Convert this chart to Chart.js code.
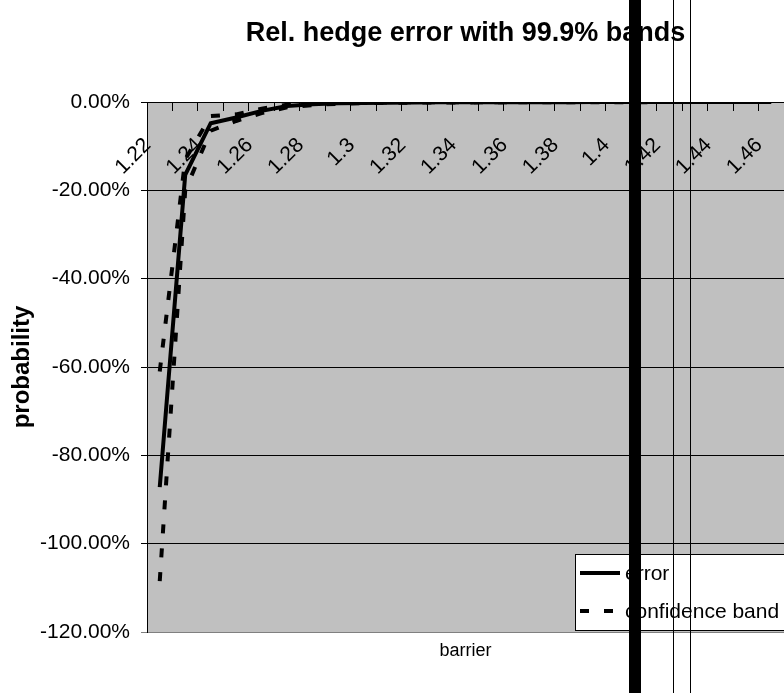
<!DOCTYPE html>
<html>
<head>
<meta charset="utf-8">
<title>Rel. hedge error with 99.9% bands</title>
<script src="https://cdn.jsdelivr.net/npm/chart.js@4/dist/chart.umd.min.js"></script>
<style>
  body { margin: 0; background: #fff; }
  #wrap { position: relative; width: 784px; height: 693px; overflow: hidden; }
  .vline { position: absolute; top: 0; height: 693px; background: #000; }
</style>
</head>
<body>
<div id="wrap">
  <canvas id="grafico" width="784" height="693"></canvas>
  <div class="vline" style="left:629px;width:12px"></div>
  <div class="vline" style="left:673px;width:1px"></div>
  <div class="vline" style="left:690px;width:1px"></div>
</div>
<script>
// barrier levels (categories)
const barreiras = ['1.22', '1.23', '1.24', '1.25', '1.26', '1.27', '1.28', '1.29', '1.3',
  '1.31', '1.32', '1.33', '1.34', '1.35', '1.36', '1.37', '1.38', '1.39', '1.4',
  '1.41', '1.42', '1.43', '1.44', '1.45', '1.46'];

// values in %
const erro = [-87.2, -16.5, -4.8, -3.5, -2.0, -0.9, -0.5, -0.3, -0.2,
  -0.15, -0.1, -0.08, -0.06, -0.05, -0.04, -0.03, -0.03, -0.02, -0.02,
  -0.02, -0.01, -0.01, -0.01, -0.01, -0.01];
const bandaSup = [-61, -13, -3.2, -2.8, -1.5, -0.6, -0.3, -0.2, -0.12,
  -0.1, -0.07, -0.05, -0.04, -0.03, -0.03, -0.02, -0.02, -0.01, -0.01,
  -0.01, -0.01, -0.01, -0.01, -0.01, -0.01];
const bandaInf = [-108.5, -20, -6.5, -4.3, -2.5, -1.2, -0.7, -0.4, -0.28,
  -0.2, -0.14, -0.11, -0.09, -0.07, -0.06, -0.05, -0.04, -0.04, -0.03,
  -0.03, -0.02, -0.02, -0.02, -0.02, -0.02];

const yTicks = [0, -20, -40, -60, -80, -100, -120];

Chart.defaults.font.family = "'Liberation Sans', Arial, sans-serif";
Chart.defaults.color = '#000';

const fundoPlot = {
  id: 'fundoPlot',
  beforeDraw(chart) {
    const a = chart.chartArea;
    const ctx = chart.ctx;
    ctx.save();
    ctx.fillStyle = '#c0c0c0';
    ctx.fillRect(a.left, a.top, a.right - a.left, a.bottom - a.top);
    ctx.restore();
  }
};

// legend box like the excel one, inside the plot bottom right
const legendaBox = {
  id: 'legendaBox',
  afterDraw(chart) {
    const a = chart.chartArea;
    const ctx = chart.ctx;
    const x0 = a.right - 209, y0 = a.bottom - 78;
    ctx.save();
    ctx.fillStyle = '#fff';
    ctx.strokeStyle = '#000';
    ctx.lineWidth = 1;
    ctx.fillRect(x0, y0, 240, 77);
    ctx.strokeRect(x0 + 0.5, y0 + 0.5, 240, 76);
    const vistos = [];
    let linha = 0;
    chart.data.datasets.forEach(ds => {
      if (vistos.includes(ds.label)) return;
      vistos.push(ds.label);
      const y = y0 + 19 + linha * 38;
      ctx.strokeStyle = ds.borderColor;
      ctx.lineWidth = ds.borderWidth;
      ctx.setLineDash(ds.borderDash || []);
      ctx.beginPath();
      ctx.moveTo(x0 + 5, y);
      ctx.lineTo(x0 + 45, y);
      ctx.stroke();
      ctx.setLineDash([]);
      ctx.fillStyle = '#000';
      ctx.font = "21px 'Liberation Sans', Arial, sans-serif";
      ctx.textBaseline = 'middle';
      ctx.fillText(ds.label, x0 + 50, y + 1);
      linha++;
    });
    ctx.restore();
  }
};

new Chart(document.getElementById('grafico'), {
  type: 'line',
  data: {
    labels: barreiras,
    datasets: [
      { label: 'error', data: erro, borderColor: '#000', borderWidth: 4 },
      { label: 'confidence band', data: bandaSup, borderColor: '#000', borderWidth: 4, borderDash: [9, 15] },
      { label: 'confidence band', data: bandaInf, borderColor: '#000', borderWidth: 4, borderDash: [9, 15] }
    ]
  },
  options: {
    responsive: false,
    animation: false,
    layout: { padding: 0 },
    elements: { point: { radius: 0 }, line: { tension: 0 } },
    plugins: {
      legend: { display: false },
      tooltip: { enabled: false },
      title: {
        display: true,
        fullSize: false,
        text: 'Rel. hedge error with 99.9% bands',
        font: { size: 27, weight: 'bold' },
        padding: { top: 17, bottom: 52.6 }
      }
    },
    scales: {
      x: {
        type: 'category',
        position: { y: 0 },
        offset: true,
        grid: { offset: true, drawOnChartArea: false, drawTicks: true, tickLength: 8, color: '#000' },
        border: { display: true, color: '#000', width: 1 },
        ticks: {
          autoSkip: false,
          minRotation: 45,
          maxRotation: 45,
          padding: 23,
          labelOffset: -12,
          font: { size: 21 },
          callback: (v, i) => (i % 2 ? '' : barreiras[i])
        },
        afterFit: s => { s.height = 0; s.paddingLeft = 0; s.paddingRight = 0; }
      },
      x2: {
        type: 'category',
        position: 'bottom',
        grid: { display: false },
        border: { display: false },
        ticks: { display: false },
        title: { display: true, text: 'barrier', font: { size: 18 }, padding: { top: 0, bottom: 31 } },
        afterFit: s => { s.height = 61; s.paddingLeft = 0; s.paddingRight = 0; }
      },
      y: {
        min: -120,
        max: 0,
        afterBuildTicks: s => { s.ticks = yTicks.map(v => ({ value: v })); },
        grid: {
          color: c => (c.tick && c.tick.value === -120 ? '#808080' : '#000'),
          tickLength: 6
        },
        border: { display: true, color: '#000', width: 1 },
        ticks: {
          padding: 11,
          font: { size: 21 },
          callback: v => v.toFixed(2) + '%'
        },
        title: { display: true, text: 'probability', font: { size: 24, weight: 'bold' }, padding: { top: 8, bottom: 0 } },
        afterFit: s => { s.width = 147; }
      }
    }
  },
  plugins: [fundoPlot, legendaBox]
});
</script>
</body>
</html>
